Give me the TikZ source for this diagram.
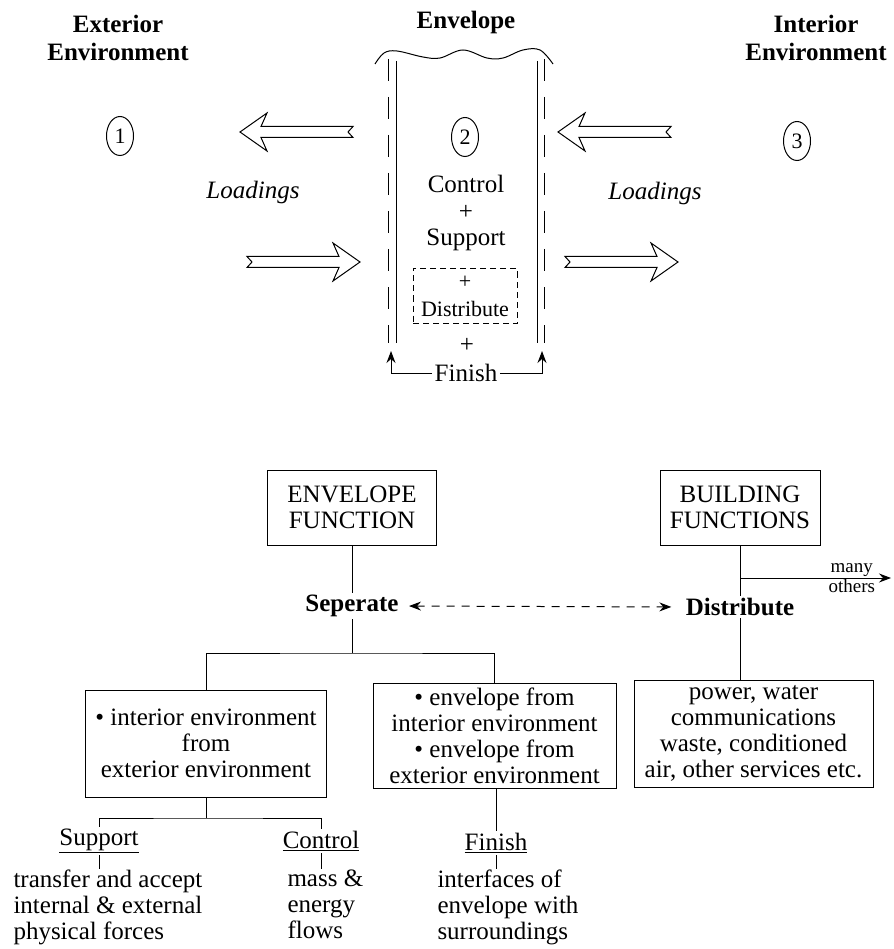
\documentclass[tikz,border=0pt]{standalone}
\usepackage{fontspec}
\setmainfont{Liberation Serif}
\usetikzlibrary{arrows.meta,calc,shapes.geometric}

\begin{document}
\begin{tikzpicture}[x=1pt, y=-1pt, >={Stealth[length=12pt, width=9pt, inset=4pt]}, line width=1pt, font=\fontsize{25}{27}\selectfont]
    \tikzstyle{every node}=[inner sep=2pt]
    \tikzstyle{head}=[font=\fontsize{25}{28}\selectfont\bfseries, align=center]
    \tikzstyle{zone}=[draw, ellipse, inner sep=0pt, minimum width=27pt, minimum height=39pt, font=\fontsize{22}{22}\selectfont]
    \tikzstyle{box}=[draw, align=center, inner sep=0pt, font=\fontsize{25}{26}\selectfont]
    \tikzstyle{desc}=[anchor=north west, align=left, inner sep=0pt, font=\fontsize{25}{26}\selectfont]
    \tikzstyle{wall}=[dash pattern=on 22pt off 16pt]
    \tikzset{load/.pic={\draw[line join=miter] (0,-5.5) -- (92,-5.5) -- (86,-19) -- (113,0) -- (86,19) -- (92,5.5) -- (0,5.5) -- (5,0) -- cycle;}}
    \useasboundingbox (0,0) rectangle (893,949);

    % top: the three zones
    \node[head]    (ext)  at (118,38)   {Exterior\\Environment};
    \node[head]    (env)  at (466,22)   {Envelope};
    \node[head]    (int)  at (816,38)   {Interior\\Environment};
    \node[zone]    (z1)   at (120,136)  {1};
    \node[zone]    (z2)   at (465,137)  {2};
    \node[zone]    (z3)   at (797,141)  {3};

    % envelope walls
    \draw plot[smooth, tension=0.6] coordinates {(375,64) (384,53) (397,51) (423,57) (440,58) (463,50) (487,58) (503,58) (523,50) (540,50) (553,64)};
    \draw[wall] (388,59) -- (388,343);
    \draw       (396,61) -- (396,343);
    \draw       (537,61) -- (537,343);
    \draw[wall] (544,59) -- (544,343);

    \node[align=center, font=\fontsize{25}{26.5}\selectfont] (cs) at (466,213) {Control\\+\\Support};
    \node[draw, dash pattern=on 6pt off 4pt, minimum width=104pt, minimum height=55pt, inner sep=0pt,
          align=center, font=\fontsize{22}{28}\selectfont] (db) at (465,296) {+\\Distribute};
    \node          (p3)   at (467,345)  {+};
    \node          (fin)  at (466,373)  {Finish};
    \coordinate    (fl)   at (391,351);
    \coordinate    (fr)   at (542,351);
    \draw[->] (fin.west) -| (fl);
    \draw[->] (fin.east) -| (fr);

    % loadings
    \pic[xscale=-1] at (353,132) {load};
    \pic            at (247,262) {load};
    \pic[xscale=-1] at (671,132) {load};
    \pic            at (565,262) {load};
    \node[font=\fontsize{25}{27}\selectfont\itshape] (ll) at (253,192) {Loadings};
    \node[font=\fontsize{25}{27}\selectfont\itshape] (lr) at (655,193) {Loadings};

    % bottom: function tree
    \node[box, minimum width=169pt, minimum height=75pt] (ef)  at (352,507.5) {ENVELOPE\\FUNCTION};
    \node[box, minimum width=160pt, minimum height=75pt] (bf)  at (740,507.5) {BUILDING\\FUNCTIONS};
    \node[head]    (sep)  at (352,606)  {Seperate};
    \node[head]    (dis)  at (740,607)  {Distribute};
    \coordinate    (mo)   at (740,578);
    \coordinate    (me)   at (891,578);
    \node[box, minimum width=239pt, minimum height=107pt] (svc) at (753.5,733.5)
        {power, water\\communications\\waste, conditioned\\air, other services etc.};
    \coordinate    (sj)   at (352,653);
    \node[box, minimum width=241pt, minimum height=107pt] (lb)  at (206,743.5)
        {\textbullet\ interior environment\\from\\exterior environment};
    \node[box, minimum width=243pt, minimum height=105pt] (rb)  at (494.5,735.5)
        {\textbullet\ envelope from\\interior environment\\\textbullet\ envelope from\\exterior environment};
    \coordinate    (lj)   at (206,818);
    \node          (sup)  at (99,841)   {\underline{Support}};
    \node          (ctl)  at (321,841)  {\underline{Control}};
    \node          (fn)   at (496,843)  {\underline{Finish}};
    \node[desc]    (sd)   at (13,869)   {transfer and accept\\internal \& external\\physical forces};
    \node[desc]    (cd)   at (287,869)  {mass \&\\energy\\flows};
    \node[desc]    (fd)   at (437,869)  {interfaces of\\envelope with\\surroundings};

    \draw (ef) -- (sep);
    \draw (bf) -- (dis);
    \draw (dis) -- (dis |- svc.north);
    \draw[<->, dash pattern=on 8pt off 7pt, shorten <=8pt, shorten >=12pt] (sep.east) -- (dis.west);
    \draw[->] (mo) -- (me)
        node[pos=0.74, above, inner sep=1pt, font=\fontsize{19}{19}\selectfont] {many}
        node[pos=0.74, below, inner sep=1pt, font=\fontsize{19}{19}\selectfont] {others};
    \draw (sep) -- (sj);
    \draw (lb) |- (sj) -| (rb);
    \draw (lb) -- (lj);
    \draw (sup) |- (lj) -| (ctl);
    \draw (fn |- rb.south) -- (fn);
    \draw (sup) -- (sup |- sd.north);
    \draw (ctl) -- (ctl |- cd.north);
    \draw (fn) -- (fn |- fd.north);
\end{tikzpicture}
\end{document}
